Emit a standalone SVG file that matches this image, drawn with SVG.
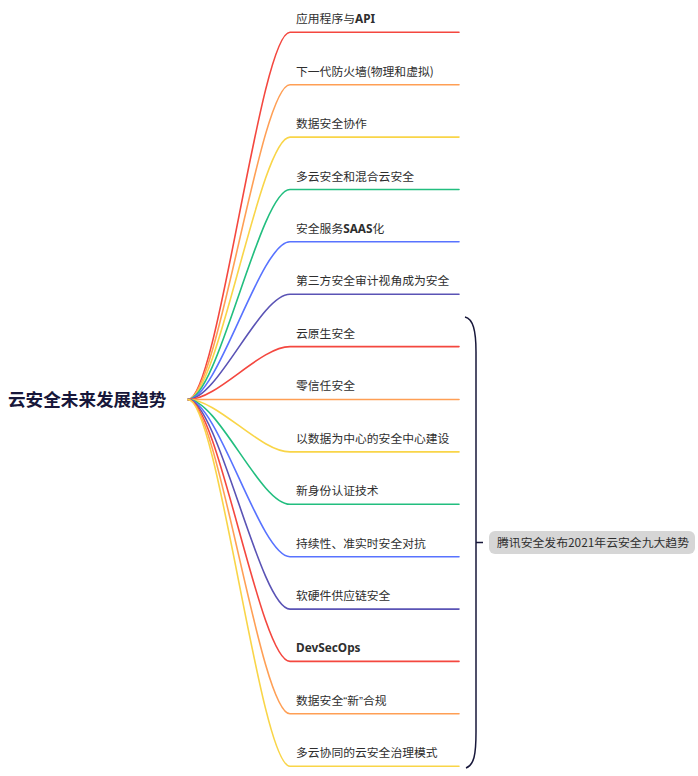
<svg xmlns="http://www.w3.org/2000/svg" width="698" height="776" viewBox="0 0 698 776">
<style>
.t{font-family:"Noto Sans CJK SC","Noto Sans",sans-serif;font-size:11.8px;fill:#2e2e2e}
.s{font-family:"Noto Sans CJK SC","Noto Sans",sans-serif;font-size:11.5px;fill:#2e2e2e}
.b{font-family:"Noto Sans","Noto Sans CJK SC",sans-serif;font-weight:700}
.q{font-family:"Liberation Sans","Noto Sans",sans-serif}
.root{font-family:"Noto Sans CJK SC","Noto Sans",sans-serif;font-size:17.6px;font-weight:700;fill:#17173a}
.c{fill:none;stroke-width:1.6;stroke-linecap:round}
.r{stroke:#F4473F}.o{stroke:#FF9F55}.y{stroke:#F9D548}.g{stroke:#22BE7F}.bl{stroke:#5873FF}.p{stroke:#5A53B5}
</style>
<rect width="698" height="776" fill="#ffffff"/>
<g id="connectors">
<path class="c r" d="M188,399.5 C218,399.5 260,32.3 290,32.3 L459,32.3"/>
<path class="c o" d="M188,399.5 C218,399.5 260,84.7 290,84.7 L459,84.7"/>
<path class="c y" d="M188,399.5 C218,399.5 260,137.1 290,137.1 L459,137.1"/>
<path class="c g" d="M188,399.5 C218,399.5 260,189.5 290,189.5 L459,189.5"/>
<path class="c bl" d="M188,399.5 C218,399.5 260,241.8 290,241.8 L459,241.8"/>
<path class="c p" d="M188,399.5 C218,399.5 260,294.2 290,294.2 L459,294.2"/>
<path class="c r" d="M188,399.5 C218,399.5 260,346.6 290,346.6 L459,346.6"/>
<path class="c o" d="M188,399.5 L459,399.5"/>
<path class="c y" d="M188,399.5 C218,399.5 260,451.9 290,451.9 L459,451.9"/>
<path class="c g" d="M188,399.5 C218,399.5 260,504.3 290,504.3 L459,504.3"/>
<path class="c bl" d="M188,399.5 C218,399.5 260,556.7 290,556.7 L459,556.7"/>
<path class="c p" d="M188,399.5 C218,399.5 260,609.1 290,609.1 L459,609.1"/>
<path class="c r" d="M188,399.5 C218,399.5 260,661.4 290,661.4 L459,661.4"/>
<path class="c o" d="M188,399.5 C218,399.5 260,713.8 290,713.8 L459,713.8"/>
<path class="c y" d="M188,399.5 C218,399.5 260,766.2 290,766.2 L459,766.2"/>
<path d="M465,317 C473,319 476,330 476,352 L476,732 C476,755 474,765 466,768 M476,542.5 L483,542.5" fill="none" stroke="#17173a" stroke-width="1.5"/>
</g>
<g id="root"><text class="root" x="8" y="406">云安全未来发展趋势</text></g>
<g id="n1"><text class="t" x="296" y="23.3">应用程序与<tspan class="b">API</tspan></text></g>
<g id="n2"><text class="t" x="296" y="75.7">下一代防火墙(物理和虚拟)</text></g>
<g id="n3"><text class="t" x="296" y="128.1">数据安全协作</text></g>
<g id="n4"><text class="t" x="296" y="180.5">多云安全和混合云安全</text></g>
<g id="n5"><text class="t" x="296" y="232.8">安全服务<tspan class="b">SAAS</tspan>化</text></g>
<g id="n6"><text class="t" x="296" y="285.2">第三方安全审计视角成为安全</text></g>
<g id="n7"><text class="t" x="296" y="337.6">云原生安全</text></g>
<g id="n8"><text class="t" x="296" y="390">零信任安全</text></g>
<g id="n9"><text class="t" x="296" y="442.9">以数据为中心的安全中心建设</text></g>
<g id="n10"><text class="t" x="296" y="495.3">新身份认证技术</text></g>
<g id="n11"><text class="t" x="296" y="547.7">持续性、准实时安全对抗</text></g>
<g id="n12"><text class="t" x="296" y="600.1">软硬件供应链安全</text></g>
<g id="n13"><text class="t" x="296" y="652.4"><tspan class="b">DevSecOps</tspan></text></g>
<g id="n14"><text class="t" x="296" y="704.8">数据安全<tspan class="q">“</tspan>新<tspan class="q">”</tspan>合规</text></g>
<g id="n15"><text class="t" x="296" y="757.2">多云协同的云安全治理模式</text></g>
<g id="summary">
<rect x="489" y="531" width="206" height="23" rx="6" fill="#d6d6d6"/>
<text class="s" x="497" y="547" textLength="192" lengthAdjust="spacingAndGlyphs">腾讯安全发布2021年云安全九大趋势</text>
</g>
</svg>
